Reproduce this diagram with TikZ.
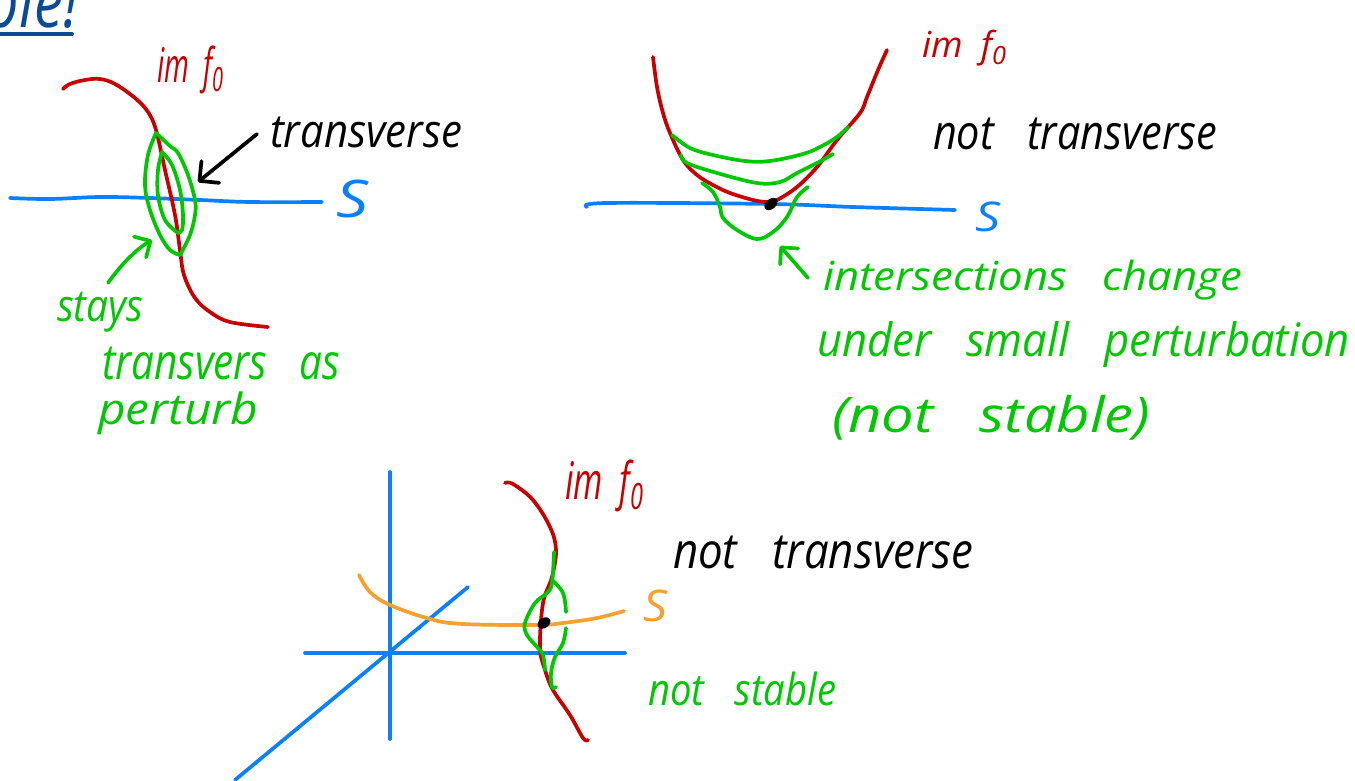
\documentclass[tikz,border=0pt]{standalone}
\usepackage{fontspec}
\usepackage{graphicx}
\usetikzlibrary{arrows.meta}
\setmainfont{Open Sans}
\definecolor{inkred}{HTML}{C80000}
\definecolor{inkblue}{HTML}{0A80FF}
\definecolor{inkgreen}{HTML}{00C800}
\definecolor{inkorange}{HTML}{F5A030}
\definecolor{inknavy}{HTML}{0B4A94}
\newcommand{\hw}[7]{\node[hwtext,text=#6] (#1) at (#2,#3) {\resizebox*{#4pt}{#5pt}{\itshape #7}};}
\newcommand{\imf}{im\hspace{.5em}f\raisebox{-.35ex}{\scriptsize 0}}
\newcommand{\gap}{\hspace{.8em}}
\tikzset{
  hwtext/.style={anchor=north west,inner sep=0pt,outer sep=0pt},
  pen/.style={line width=3.7pt,line cap=round,line join=round},
  ink/.style={pen,draw=#1},
  arrowblack/.style={line width=3.7pt,line cap=round,line join=round,-{Straight Barb[length=14pt,width=28pt,line width=3.7pt,round]}},
  arrowgreen/.style={line width=3.7pt,line cap=round,line join=round,draw=inkgreen,-{Straight Barb[length=12pt,width=24pt,line width=3.7pt,round,inkgreen]}},
  dotmark/.style={fill=black,draw=none}
}
\begin{document}
\begin{tikzpicture}[x=1pt,y=-1pt]
\useasboundingbox (0,0) rectangle (1355,781);
\clip (0,0) rectangle (1355,781);
\fill[white] (0,0) rectangle (1355,781);

% clipped heading
\hw{head}{-14}{-26}{92}{54}{inknavy}{ble!}
\coordinate (ulA) at (0,34);
\coordinate (ulB) at (72,34);
\draw[ink=inknavy] (ulA) -- (ulB);

% --- left sketch ---
\draw[ink=inkblue] plot[smooth,tension=.6] coordinates {(10,198)(50,199)(100,197)(150,198)(200,200)(250,202)(322,202)};
\draw[ink=inkred] plot[smooth,tension=.6] coordinates {(63,89)(70,84)(85,80)(100,79)(115,84)(135,98)(148,112)(156,130)(165,170)(175,215)(180,250)(184,275)(195,298)(210,312)(230,322)(268,327)};
\draw[ink=inkgreen] plot[smooth,tension=.6] coordinates {(156,133)(148,155)(145,185)(150,210)(160,235)(170,250)(180,255)};
\draw[ink=inkgreen] plot[smooth,tension=.6] coordinates {(156,133)(170,146)(178,153)(188,175)(195,200)(195,215)(190,235)(180,255)};
\draw[ink=inkgreen] plot[smooth,tension=.6] coordinates {(162,152)(158,170)(158,195)(165,220)(178,233)};
\draw[ink=inkgreen] plot[smooth,tension=.6] coordinates {(162,152)(172,165)(180,190)(183,215)(182,230)(178,233)};
\hw{imfA}{157}{46}{66}{48}{inkred}{\imf}
\hw{transA}{270}{117}{192}{31}{black}{transverse}
\hw{sA}{336}{180}{32}{38}{inkblue}{S}
\hw{stays}{57}{292}{86}{40}{inkgreen}{stays}
\hw{transvers}{102}{347}{238}{33}{inkgreen}{transvers\gap as}
\hw{perturb}{98}{392}{160}{43}{inkgreen}{perturb}
\coordinate (blackTail) at (257,134);
\coordinate (blackTip) at (198,182);
\draw[arrowblack] (blackTail) -- (blackTip);
\coordinate (greenTailA) at (108,283);
\coordinate (greenTipA) at (152,240);
\draw[arrowgreen] (greenTailA) .. controls (120,266) and (135,250) .. (greenTipA);

% --- right sketch ---
\draw[ink=inkblue] plot[smooth,tension=.6] coordinates {(587,207)(607,203)(770,204)(853,207)(955,210)};
\draw[ink=inkred] plot[smooth,tension=.6] coordinates {(653,57)(657,87)(663,113)(670,133)(683,160)(697,175)(713,185)(730,193)(753,200)(767,202)(777,200)(797,187)(817,167)(837,140)(860,113)(867,97)(878,70)(887,50)};
\draw[ink=inkgreen] plot[smooth,tension=.6] coordinates {(672,135)(690,148)(713,155)(745,161)(770,161)(803,154)(820,147)(837,137)(848,127)};
\draw[ink=inkgreen] plot[smooth,tension=.6] coordinates {(681,155)(687,163)(717,173)(757,183)(780,182)(797,173)(817,163)(833,154)};
\draw[ink=inkgreen] plot[smooth,tension=.6] coordinates {(702,183)(713,192)(720,207)(723,218)(737,230)(757,239)(773,232)(787,217)(797,197)(808,187)};
\fill[dotmark,rotate around={40:(771,204)}] (771,204) ellipse [x radius=7.5pt,y radius=5pt];
\hw{imfB}{922}{30}{84}{36}{inkred}{\imf}
\hw{notB}{933}{118}{284}{32}{black}{not\gap transverse}
\hw{sB}{975}{202}{25}{30}{inkblue}{S}
\hw{inter}{823}{260}{419}{40}{inkgreen}{intersections\gap change}
\hw{under}{817}{322}{533}{46}{inkgreen}{under\gap small\gap perturbation}
\hw{notstable}{832}{395}{318}{45}{inkgreen}{(not\gap stable)}
\coordinate (greenTailB) at (808,278);
\coordinate (greenTipB) at (780,246);
\draw[arrowgreen] (greenTailB) -- (greenTipB);

% --- bottom sketch ---
\draw[ink=inkblue] (390,472) -- (390,739);
\draw[ink=inkblue] (305,653) -- (625,653);
\draw[ink=inkblue] (235,780) -- (468,587);
\draw[ink=inkorange] plot[smooth,tension=.6] coordinates {(359,575)(370,592)(390,605)(430,619)(463,624)(537,625)(563,623)(597,618)(624,611)};
\draw[ink=inkred] plot[smooth,tension=.6] coordinates {(505,483)(513,484)(533,500)(550,527)(556,550)(552,577)(543,603)(540,647)(545,670)(553,690)(570,715)(583,738)(588,740)};
\draw[ink=inkgreen] plot[smooth,tension=.6] coordinates {(554,552)(552,583)(547,593)(535,603)(525,623)(527,635)(537,647)(543,655)(545,670)};
\draw[ink=inkgreen] plot[smooth,tension=.6] coordinates {(552,580)(563,593)(566,612)};
\draw[ink=inkgreen] plot[smooth,tension=.6] coordinates {(566,628)(563,643)(555,657)(551,673)(552,687)(556,687)};
\fill[dotmark,rotate around={35:(544,623)}] (544,623) ellipse [x radius=7pt,y radius=5pt];
\hw{imfC}{565}{460}{78}{52}{inkred}{\imf}
\hw{notC}{673}{536}{300}{33}{black}{not\gap transverse}
\hw{sC}{643}{590}{24}{32}{inkorange}{S}
\hw{notD}{648}{672}{188}{34}{inkgreen}{not\gap stable}
\end{tikzpicture}
\end{document}
